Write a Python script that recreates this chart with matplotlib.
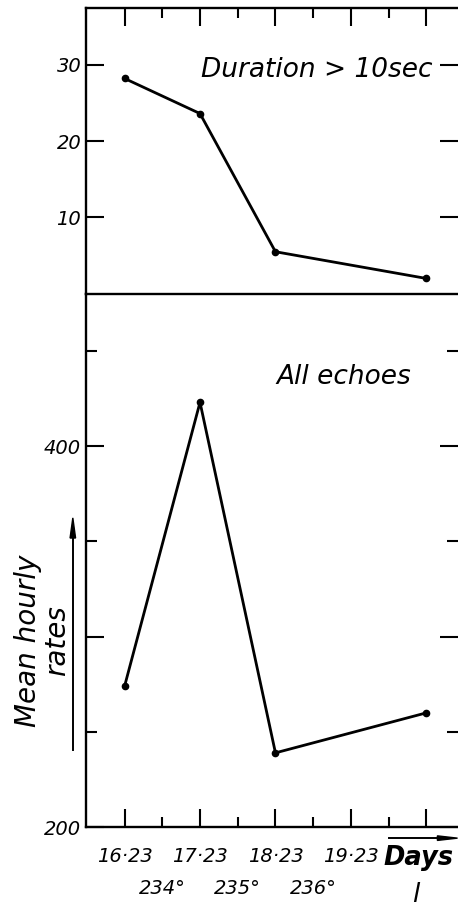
import numpy as np
import matplotlib.pyplot as plt
from matplotlib.ticker import FixedLocator

days = [16.23, 17.23, 18.23, 20.23]
long_rates = [28.2, 23.6, 5.5, 2.0]      # duration > 10 sec
all_rates = [274, 423, 239, 260]         # all echoes

day_ticks = [16.23, 17.23, 18.23, 19.23, 20.23]
day_labels = ["16·23", "17·23", "18·23", "19·23", ""]
lon_pos = [16.73, 17.73, 18.73]
lon_labels = ["234°", "235°", "236°"]

plt.rcParams["font.family"] = "DejaVu Sans"
plt.rcParams["font.style"] = "oblique"

fig = plt.figure(figsize=(4.58, 9.15), dpi=100)
ax1 = fig.add_axes([0.188, 0.679, 0.812, 0.312])
ax2 = fig.add_axes([0.188, 0.096, 0.812, 0.583])
ax2.patch.set_visible(False)

xlim = (15.72, 20.65)
lw = 2.0

for ax in (ax1, ax2):
    ax.set_xlim(*xlim)
    ax.spines["right"].set_visible(False)
    for s in ax.spines.values():
        s.set_linewidth(1.7)
    ax.xaxis.set_major_locator(FixedLocator(day_ticks))
    ax.xaxis.set_minor_locator(FixedLocator([d + 0.5 for d in day_ticks[:-1]]))
    ax.tick_params(which="both", direction="in", width=1.5, labelsize=14,
                   left=True, right=True)
    ax.tick_params(which="major", length=13)
    ax.tick_params(which="minor", length=7)

# top panel
ax1.plot(days, long_rates, color="black", lw=lw, marker="o", ms=4.5)
ax1.set_ylim(0, 37.4)
ax1.yaxis.set_major_locator(FixedLocator([10, 20, 30]))
ax1.tick_params(axis="x", which="both", top=True, bottom=False,
                labelbottom=False)
ax1.text(0.931, 0.785, "Duration > 10sec", transform=ax1.transAxes,
         ha="right", va="center", fontsize=19)

# bottom panel
ax2.plot(days, all_rates, color="black", lw=lw, marker="o", ms=4.5)
ax2.set_ylim(200, 480)
ax2.spines["top"].set_visible(False)
ax2.yaxis.set_major_locator(FixedLocator([200, 300, 400]))
ax2.yaxis.set_minor_locator(FixedLocator([250, 350, 450]))
ax2.set_yticklabels(["200", "", "400"])
ax2.tick_params(axis="y", which="minor", length=8)
ax2.tick_params(axis="x", which="both", top=False, bottom=True, pad=14)
ax2.set_xticklabels(day_labels)
ax2.text(0.694, 0.844, "All echoes", transform=ax2.transAxes,
         ha="center", va="center", fontsize=19)

for p, lab in zip(lon_pos, lon_labels):
    ax2.text(p, -0.115, lab, transform=ax2.get_xaxis_transform(),
             ha="center", va="center", fontsize=14)

# axis captions
fig.text(0.914, 0.062, "Days", ha="center", va="center", fontsize=18.5,
         fontweight="bold")
fig.text(0.908, 0.022, "l", ha="center", va="center", fontsize=19)
fig.add_artist(plt.Line2D([0.85, 0.99], [0.084, 0.084], color="black",
                          lw=1.4, transform=fig.transFigure))
fig.patches.append(plt.Polygon([[0.999, 0.084], [0.955, 0.0865], [0.955, 0.0815]],
                               closed=True, color="black",
                               transform=fig.transFigure))

fig.add_artist(plt.Line2D([0.159, 0.159], [0.180, 0.420], color="black",
                          lw=1.4, transform=fig.transFigure))
fig.patches.append(plt.Polygon([[0.159, 0.434], [0.153, 0.412], [0.165, 0.412]],
                               closed=True, color="black",
                               transform=fig.transFigure))
fig.text(0.062, 0.30, "Mean hourly", rotation=90, ha="center", va="center",
         fontsize=20)
fig.text(0.124, 0.30, "rates", rotation=90, ha="center", va="center",
         fontsize=20)

fig.savefig("out.png", dpi=100)
